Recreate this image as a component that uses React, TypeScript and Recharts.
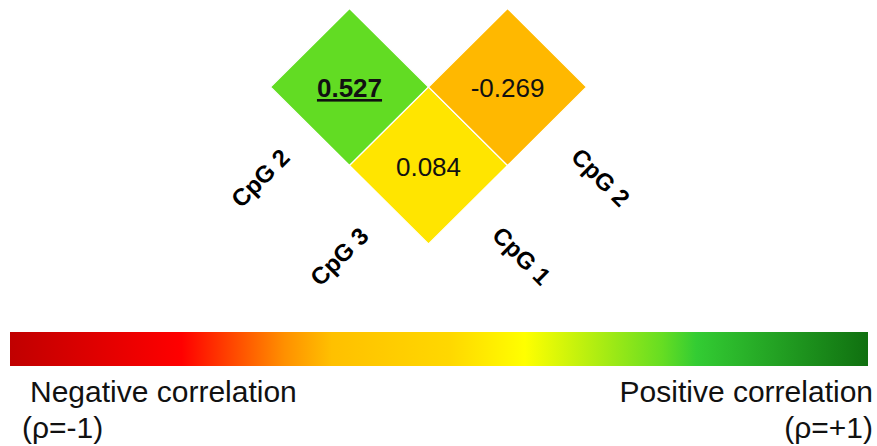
import React from 'react';
import { ScatterChart, Scatter, XAxis, YAxis, ReferenceArea } from 'recharts';

// variables of the triangle: rows on the lower-left side, columns on the lower-right side
const rowVars = ['CpG 2', 'CpG 3'];
const colVars = ['CpG 1', 'CpG 2'];

// Spearman rho for each pair (row var, column var)
const correlations = [
  { row: 'CpG 2', col: 'CpG 1', rho: 0.527, significant: true },
  { row: 'CpG 3', col: 'CpG 1', rho: 0.084, significant: false },
  { row: 'CpG 3', col: 'CpG 2', rho: -0.269, significant: false },
];

// colour scale, rho -> colour
const colorStops: [number, string][] = [
  [-1, '#c00000'],
  [-0.6, '#ff0000'],
  [-0.36, '#ff9000'],
  [-0.25, '#ffc000'],
  [0.026, '#ffd800'],
  [0.2, '#ffff00'],
  [0.52, '#66dd22'],
  [0.6, '#33cc33'],
  [1, '#107010'],
];

// legend captions at both ends of the colour bar
const captions = [
  { rho: -1, lines: ['Negative correlation', '(ρ=-1)'] },
  { rho: 1, lines: ['Positive correlation', '(ρ=+1)'] },
];

const W = 877;
const H = 446;
const FONT = '"Liberation Sans", Arial, sans-serif';

// pixel layout of the rotated grid
const PX0 = 349.5;
const PY0 = 87;
const UX = 79;
const UY = 78.5;
const gridXDomain = [-PX0 / UX, (W - PX0) / UX];
const gridYDomain = [-PY0 / UY, (H - PY0) / UY];
const toGy = (py: number) => (py - PY0) / UY;

// colour bar position
const BAR_LEFT = 10;
const BAR_RIGHT = 868;
const BAR_TOP = 332;
const BAR_BOTTOM = 366;
const barUnit = (BAR_RIGHT - BAR_LEFT) / 2;
const rhoDomain = [-1 - BAR_LEFT / barUnit, 1 + (W - BAR_RIGHT) / barUnit];

const hexToRgb = (h: string) => [1, 3, 5].map((i) => parseInt(h.slice(i, i + 2), 16));

const rhoColor = (rho: number) => {
  for (let i = 0; i < colorStops.length - 1; i++) {
    const [r0, c0] = colorStops[i];
    const [r1, c1] = colorStops[i + 1];
    if (rho >= r0 && rho <= r1) {
      const t = (rho - r0) / (r1 - r0);
      const a = hexToRgb(c0);
      const b = hexToRgb(c1);
      const m = a.map((v, k) => Math.round(v + (b[k] - v) * t));
      return `rgb(${m[0]},${m[1]},${m[2]})`;
    }
  }
  return colorStops[colorStops.length - 1][1];
};

const cells = correlations.map((d) => {
  const r = rowVars.indexOf(d.row);
  const c = colVars.indexOf(d.col);
  return { ...d, gx: r + c, gy: r - c };
});

const rowLabels = rowVars.map((name, r) => ({ name, gx: r - 1.13, gy: r + 1.16 }));
const colLabels = colVars.map((name, c) => ({ name, gx: c + 2.18, gy: 2.15 - c }));
const captionPoints = captions.map((d) => ({ ...d, gy: toGy(BAR_BOTTOM) }));

const DiamondCell = (props: any) => {
  const { cx, cy, payload } = props;
  const pts = `${cx},${cy - UY} ${cx + UX},${cy} ${cx},${cy + UY} ${cx - UX},${cy}`;
  return (
    <g>
      <polygon points={pts} fill={rhoColor(payload.rho)} stroke="#ffffff" strokeWidth={1.2} />
      <text
        x={cx}
        y={cy + 10}
        textAnchor="middle"
        fontSize={26}
        fontFamily={FONT}
        fontWeight={payload.significant ? 700 : 400}
        fill="#111"
        style={
          payload.significant
            ? { textDecoration: 'underline', textDecorationThickness: '3px', textUnderlineOffset: '4px' }
            : undefined
        }
      >
        {payload.rho.toFixed(3)}
      </text>
    </g>
  );
};

const makeAxisLabel = (angle: number) => (props: any) => {
  const { cx, cy, payload } = props;
  return (
    <text
      x={cx}
      y={cy}
      transform={`rotate(${angle} ${cx} ${cy})`}
      textAnchor="middle"
      dominantBaseline="central"
      fontSize={24}
      fontWeight={700}
      fontFamily={FONT}
      fill="#000"
    >
      {payload.name}
    </text>
  );
};

const Caption = (props: any) => {
  const { cx, cy, payload } = props;
  const left = payload.rho < 0;
  return (
    <g fontFamily={FONT} fontSize={30} fill="#111">
      <text x={left ? cx + 20 : cx + 5} y={cy + 36} textAnchor={left ? 'start' : 'end'}>
        {payload.lines[0]}
      </text>
      <text x={left ? cx + 12 : cx + 5} y={cy + 72} textAnchor={left ? 'start' : 'end'}>
        {payload.lines[1]}
      </text>
    </g>
  );
};

export default function App() {
  return (
    <div style={{ position: 'absolute', left: 0, top: 0, width: W, height: H, background: '#fff' }}>
      <ScatterChart width={W} height={H} margin={{ top: 0, right: 0, bottom: 0, left: 0 }}>
        <defs>
          <linearGradient id="rhoGradient" x1="0" y1="0" x2="1" y2="0">
            {colorStops.map(([rho, color]) => (
              <stop key={rho} offset={`${((rho + 1) / 2) * 100}%`} stopColor={color} />
            ))}
          </linearGradient>
        </defs>
        <XAxis xAxisId="grid" type="number" dataKey="gx" domain={gridXDomain} allowDataOverflow hide />
        <XAxis xAxisId="rho" type="number" dataKey="rho" domain={rhoDomain} allowDataOverflow hide />
        <YAxis yAxisId="grid" type="number" dataKey="gy" domain={gridYDomain} allowDataOverflow reversed hide />
        <ReferenceArea
          xAxisId="rho"
          yAxisId="grid"
          x1={-1}
          x2={1}
          y1={toGy(BAR_TOP)}
          y2={toGy(BAR_BOTTOM)}
          fill="url(#rhoGradient)"
          fillOpacity={1}
          stroke="none"
          ifOverflow="visible"
        />
        <Scatter xAxisId="rho" yAxisId="grid" data={captionPoints} shape={Caption} isAnimationActive={false} />
        <Scatter xAxisId="grid" yAxisId="grid" data={cells} shape={DiamondCell} isAnimationActive={false} />
        <Scatter xAxisId="grid" yAxisId="grid" data={rowLabels} shape={makeAxisLabel(-45)} isAnimationActive={false} />
        <Scatter xAxisId="grid" yAxisId="grid" data={colLabels} shape={makeAxisLabel(45)} isAnimationActive={false} />
      </ScatterChart>
    </div>
  );
}
